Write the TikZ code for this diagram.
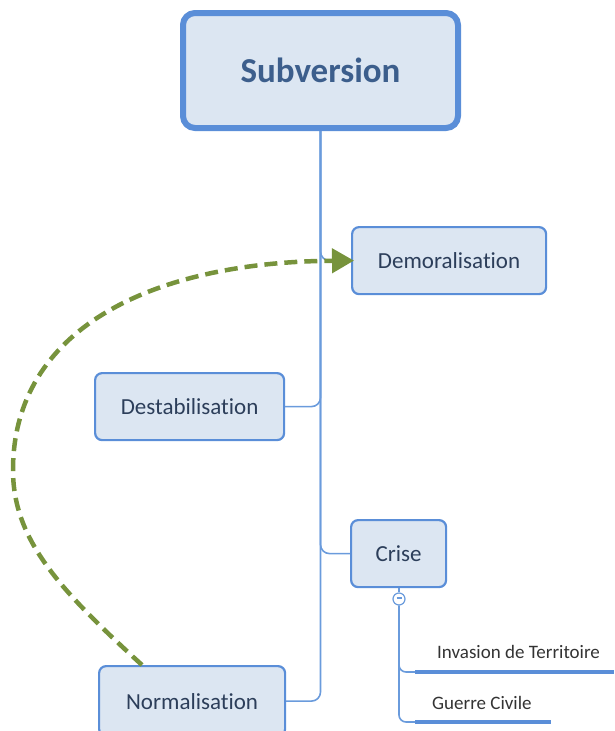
\documentclass[tikz,border=0pt]{standalone}
\usepackage{fontspec}
\setmainfont{Carlito}[RawFeature=-liga]
\usetikzlibrary{arrows.meta}
\definecolor{boxfill}{HTML}{DCE6F2}
\definecolor{boxline}{HTML}{5A8ED8}
\definecolor{trunk}{HTML}{6A9BDC}
\definecolor{txt}{HTML}{2C3E5A}
\definecolor{subtxt}{HTML}{3C5E8C}
\definecolor{arrowgreen}{HTML}{77933C}
\tikzset{
  topic/.style={draw=boxline, line width=2.2pt, fill=boxfill, rounded corners=7pt,
    text=txt, font=\fontsize{23}{26}\selectfont, inner sep=0pt, anchor=north west},
  central/.style={draw=boxline, line width=6pt, fill=boxfill, rounded corners=12pt,
    text=subtxt, font=\bfseries\fontsize{35}{40}\selectfont, inner sep=0pt, anchor=north west},
  link/.style={draw=trunk, line width=1.6pt, rounded corners=9pt},
  subtopic/.style={text=black!80, font=\fontsize{19}{22}\selectfont, inner sep=0pt, anchor=west},
  underl/.style={draw=boxline, line width=4pt},
  feedback/.style={draw=arrowgreen, line width=4.5pt, dash pattern=on 13pt off 7pt,
    -{Triangle[length=22pt,width=24pt]}}
}
\begin{document}
\begin{tikzpicture}[x=1pt,y=-1pt]
\useasboundingbox (0,0) rectangle (614,731);
% nodes
\node[central, minimum width=275pt, minimum height=115pt] (sub) at (180,10) {Subversion};
\node[topic, minimum width=194pt, minimum height=67pt] (dem) at (351,226) {Demoralisation};
\node[topic, minimum width=189pt, minimum height=67pt] (dest) at (94,372) {Destabilisation};
\node[topic, minimum width=95pt, minimum height=67pt] (crise) at (350,519) {Crise};
\node[topic, minimum width=186pt, minimum height=70pt] (norm) at (98,665) {Normalisation};
% connectors from central topic
\draw[link] (sub.south) |- (dem.west);
\draw[link] (sub.south) |- (dest.east);
\draw[link] (sub.south) |- (crise.west);
\draw[link] (sub.south) |- (norm.east);
% collapse marker under Crise
\node[circle, draw=trunk, line width=1.2pt, fill=white, minimum size=12pt, inner sep=0pt]
  (col) at (399,599) {\textcolor{trunk}{\rule[2.2pt]{5pt}{1.2pt}}};
\draw[link] (crise.south -| col.north) -- (col.north);
% subtopics
\node[subtopic] (inv) at (437,652) {Invasion de Territoire};
\node[subtopic] (gue) at (432,703) {Guerre Civile};
\coordinate (invA) at (415,672);
\coordinate (invB) at (614,672);
\coordinate (gueA) at (415,722);
\coordinate (gueB) at (551,722);
\draw[underl] (invA) -- (invB);
\draw[underl] (gueA) -- (gueB);
\draw[link, rounded corners=7pt] (col.south) |- (invA);
\draw[link, rounded corners=7pt] (col.south) |- (gueA);
% feedback arrow
\coordinate (fbStart) at (142,665);
\coordinate (fbMid) at (13,470);
\draw[feedback] (fbStart) .. controls (60,590) and (13,540) .. (fbMid)
  .. controls (13,330) and (150,262) .. ([xshift=3pt]dem.west);
\end{tikzpicture}
\end{document}
